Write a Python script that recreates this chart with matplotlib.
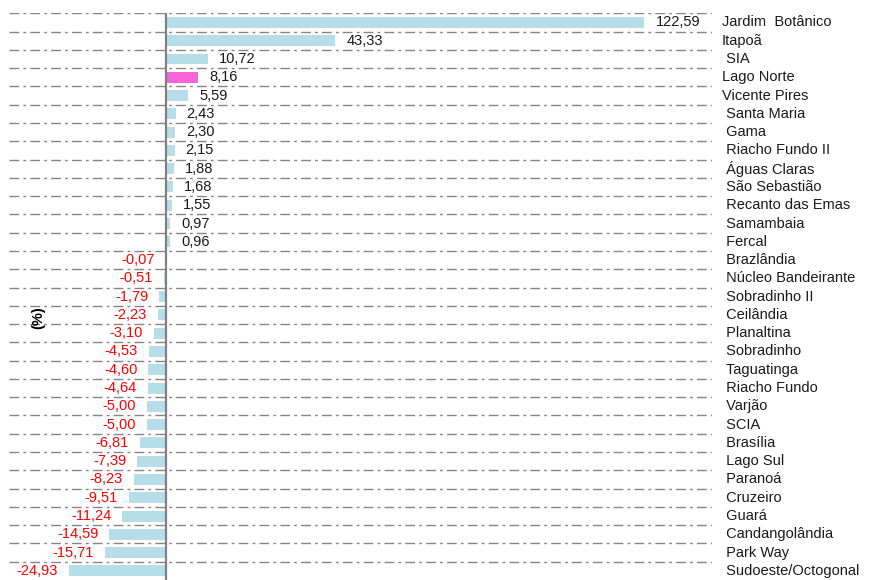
import matplotlib
matplotlib.use("Agg")
import matplotlib.pyplot as plt
from matplotlib.transforms import blended_transform_factory

plt.rcParams['font.family'] = ['Liberation Sans', 'DejaVu Sans']
plt.rcParams['lines.scale_dashes'] = False

categories = ["Jardim  Botânico", "Itapoã", " SIA", "Lago Norte", "Vicente Pires",
              " Santa Maria", " Gama", " Riacho Fundo II", " Águas Claras", " São Sebastião",
              " Recanto das Emas", " Samambaia", " Fercal", " Brazlândia", " Núcleo Bandeirante",
              " Sobradinho II", " Ceilândia", " Planaltina", " Sobradinho", " Taguatinga",
              " Riacho Fundo", " Varjão", " SCIA", " Brasília", " Lago Sul", " Paranoá",
              " Cruzeiro", " Guará", " Candangolândia", " Park Way", " Sudoeste/Octogonal"]
values = [122.59, 43.33, 10.72, 8.16, 5.59, 2.43, 2.30, 2.15, 1.88, 1.68, 1.55, 0.97, 0.96,
          -0.07, -0.51, -1.79, -2.23, -3.10, -4.53, -4.60, -4.64, -5.00, -5.00, -6.81,
          -7.39, -8.23, -9.51, -11.24, -14.59, -15.71, -24.93]
highlight = "Lago Norte"
ylabel = "(%)"

W, H = 873, 580
fig = plt.figure(figsize=(W / 100, H / 100), dpi=100)
left_px, right_px, top_px = 9, 712, 13.3
ax = fig.add_axes([left_px / W, 0, (right_px - left_px) / W, 1 - top_px / H])

blue = "#B7DEE8"
pink = "#F564D8"
n = len(categories)
ypos = list(range(n))
colors = [pink if c.strip() == highlight else blue for c in categories]
ax.barh(ypos, values, height=0.6, color=colors, edgecolor="none", zorder=2)

ax.set_xlim(-40.3, 139.9)
ax.set_ylim(n - 0.5, -0.5)

# gridlines between categories
for b in [i - 0.5 for i in range(n)]:
    ax.axhline(b, color="#858585", lw=1.0, linestyle=(0, (7, 3, 2, 3)), zorder=1)
ax.axvline(0, color="#808080", lw=1.6, zorder=3)

# value labels
px_per_unit = (right_px - left_px) / (139.9 + 40.3)
off = 11 / px_per_unit
for y, v in zip(ypos, values):
    s = f"{v:.2f}".replace(".", ",")
    if v >= 0:
        ax.text(v + off, y, s, ha="left", va="center", fontsize=10.5, color="#1a1a1a", zorder=4)
    else:
        ax.text(v - off, y, s, ha="right", va="center", fontsize=10.5, color="#ff0000", zorder=4)

# category labels at right
trans = blended_transform_factory(fig.transFigure, ax.transData)
for y, c in zip(ypos, categories):
    fig.text(722 / W, y, c, transform=trans, ha="left", va="center", fontsize=10.5, color="#1a1a1a")

fig.text(38 / W, 1 - 318 / H, ylabel, rotation=90, ha="center", va="center",
         fontsize=10.5, fontweight="bold")

ax.set_xticks([])
ax.set_yticks([])
for sp in ax.spines.values():
    sp.set_visible(False)

fig.savefig("out.png", dpi=100)
